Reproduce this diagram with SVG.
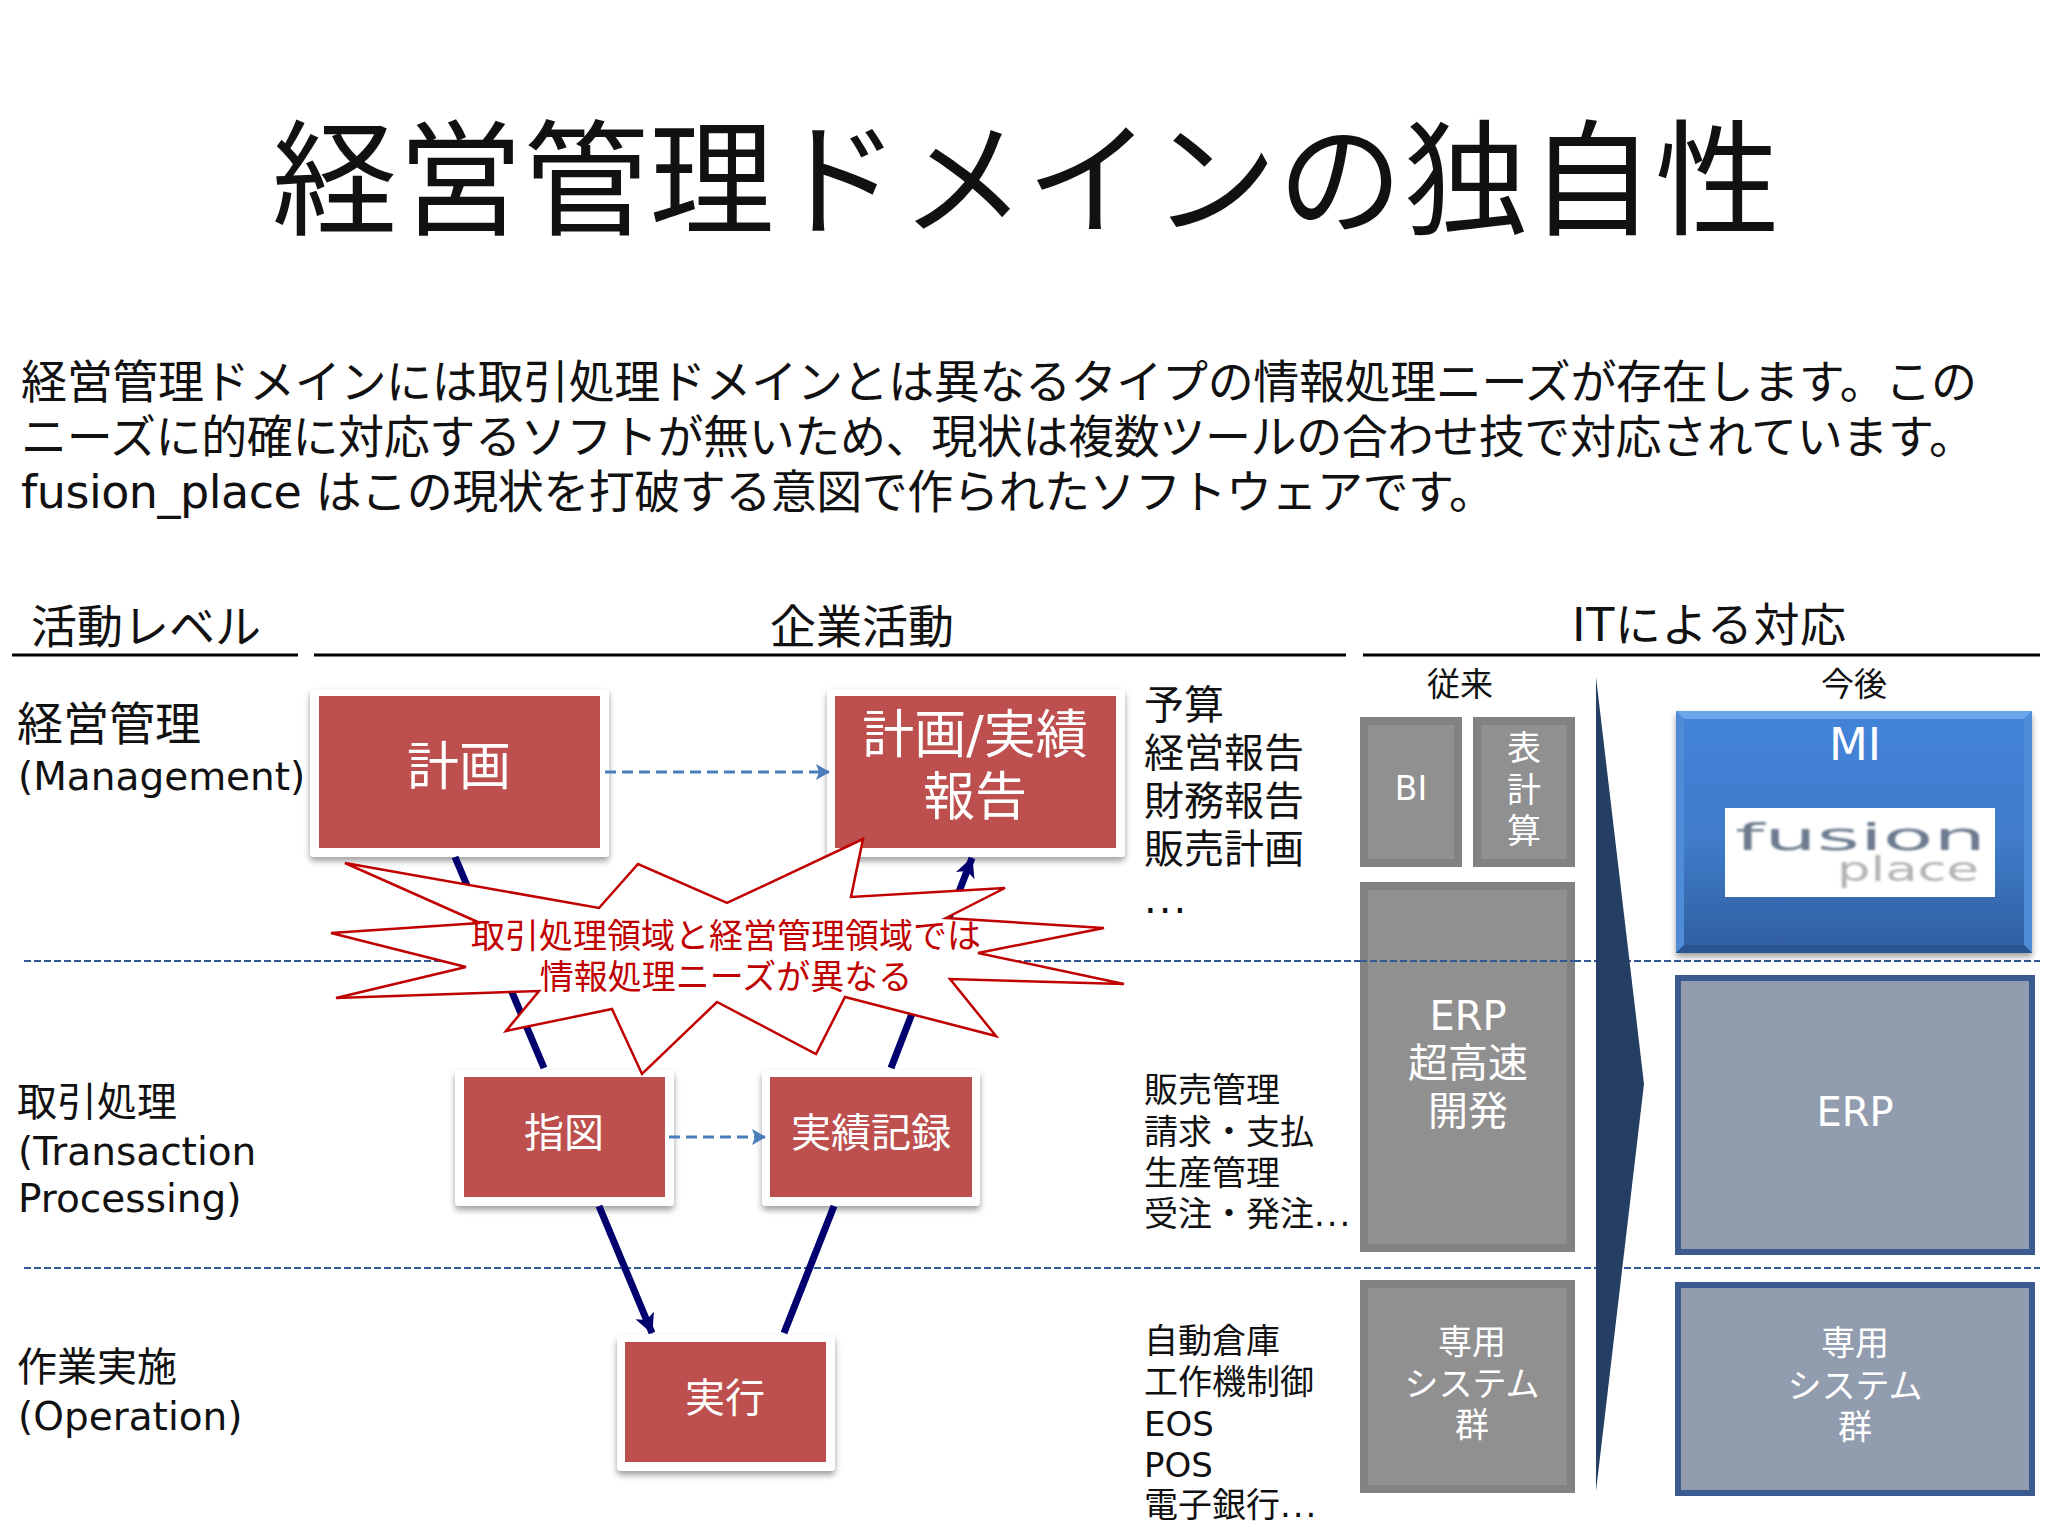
<svg xmlns="http://www.w3.org/2000/svg" width="2048" height="1536" viewBox="0 0 2048 1536">
<defs>
<style>
text{font-family:"DejaVu Sans","Noto Sans CJK JP",sans-serif;fill:#111}
.cjk{font-family:"Noto Sans CJK JP",sans-serif;font-weight:400}
.m{text-anchor:middle}
.w{fill:#fff}
.card{fill:#fff;filter:url(#sh)}
.red{fill:#bd504e}
.gray{fill:#919091;stroke:#828282;stroke-width:8}
.blue{fill:#919cae;stroke:#3a5a90;stroke-width:6}
.hd{stroke:#000;stroke-width:3;fill:none}
.lane{stroke:#2f5a94;stroke-width:2;stroke-dasharray:7 3;fill:none}
.flow{stroke:#4a7ebb;stroke-width:3;stroke-dasharray:11 6;fill:none}
.navy{stroke:#00006e;stroke-width:7;fill:none}
</style>
<filter id="sh" x="-10%" y="-10%" width="120%" height="120%"><feDropShadow dx="0" dy="4" stdDeviation="3" flood-color="#000" flood-opacity=".38"/></filter>
<filter id="soft" x="-5%" y="-20%" width="110%" height="140%"><feGaussianBlur stdDeviation=".9"/></filter>
<linearGradient id="mi" x1="0" y1="0" x2="0" y2="1"><stop offset="0" stop-color="#4384da"/><stop offset=".55" stop-color="#3f7bc8"/><stop offset="1" stop-color="#2f5e9f"/></linearGradient>
<marker id="hn" markerUnits="userSpaceOnUse" markerWidth="24" markerHeight="24" refX="19" refY="10" orient="auto"><path d="M0 0 L20 10 L0 20 L5 10Z" fill="#00006e"/></marker>
<marker id="hb" markerUnits="userSpaceOnUse" markerWidth="16" markerHeight="18" refX="13" refY="8" orient="auto"><path d="M0 0 L14 8 L0 16 L3 8Z" fill="#4a7ebb"/></marker>
</defs>
<rect width="2048" height="1536" fill="#fff"/>
<text id="title" class="cjk" x="272" y="225" font-size="125" textLength="1508">経営管理ドメインの独自性</text>
<g id="intro" font-size="46">
<text x="21" y="398" textLength="1956">経営管理ドメインには取引処理ドメインとは異なるタイプの情報処理ニーズが存在します。この</text>
<text x="21" y="453" textLength="1954">ニーズに的確に対応するソフトが無いため、現状は複数ツールの合わせ技で対応されています。</text>
<text x="21" y="508" textLength="1474">fusion_place はこの現状を打破する意図で作られたソフトウェアです。</text>
</g>
<g id="headers">
<path class="hd" d="M12 655H298M314 655H1346M1363 655H2040"/>
<text class="m" x="146" y="643" font-size="46">活動レベル</text>
<text class="m" x="862" y="643" font-size="46">企業活動</text>
<text x="1572" y="641" font-size="46" textLength="274">ITによる対応</text>
<text class="m" x="1460" y="696" font-size="33">従来</text>
<text class="m" x="1854" y="696" font-size="33">今後</text>
</g>
<g id="levels">
<text x="17" y="740" font-size="46">経営管理</text>
<text x="18" y="790" font-size="39">(Management)</text>
<text x="17" y="1116" font-size="40">取引処理</text>
<text x="18" y="1165" font-size="39">(Transaction</text>
<text x="18" y="1212" font-size="39">Processing)</text>
<text x="17" y="1381" font-size="40">作業実施</text>
<text x="18" y="1430" font-size="39">(Operation)</text>
</g>
<g id="lanes">
<path class="lane" d="M24 961H2040"/>
<path class="lane" d="M24 1268H2040"/>
</g>
<g id="plan">
<rect class="card" x="310" y="689" width="299" height="168" rx="4"/>
<rect class="red" x="319" y="696" width="281" height="152"/>
<text class="w m" x="459" y="785" font-size="52">計画</text>
</g>
<g id="report">
<rect class="card" x="827" y="689" width="298" height="168" rx="4"/>
<rect class="red" x="835" y="696" width="281" height="152"/>
<text class="w m" x="975" y="753" font-size="52">計画/実績</text>
<text class="w m" x="975" y="815" font-size="52">報告</text>
</g>
<g id="order">
<rect class="card" x="455" y="1070" width="219" height="136" rx="4"/>
<rect class="red" x="464" y="1077" width="201" height="120"/>
<text class="w m" x="564" y="1147" font-size="40">指図</text>
</g>
<g id="record">
<rect class="card" x="762" y="1070" width="218" height="136" rx="4"/>
<rect class="red" x="770" y="1077" width="202" height="120"/>
<text class="w m" x="871" y="1147" font-size="40">実績記録</text>
</g>
<g id="exec">
<rect class="card" x="617" y="1335" width="218" height="136" rx="4"/>
<rect class="red" x="625" y="1342" width="201" height="120"/>
<text class="w m" x="725" y="1412" font-size="40">実行</text>
</g>
<g id="connectors">
<path class="navy" d="M455 857L544 1068"/>
<path class="navy" d="M891 1068L972 858" marker-end="url(#hn)"/>
<path class="navy" d="M599 1206L652 1333" marker-end="url(#hn)"/>
<path class="navy" d="M784 1333L834 1206"/>
<path class="flow" d="M605 772H829" marker-end="url(#hb)"/>
<path class="flow" d="M669 1137H765" marker-end="url(#hb)"/>
</g>
<g id="burst">
<polygon points="345,863 599,908 638,864 727,903 863,839 851,897 1005,888 946,918 1104,928 978,953 1124,984 950,979 996,1036 845,997 816,1054 717,1002 642,1074 612,1009 506,1031 539,991 336,998 466,967 331,933 480,923" fill="#fff" stroke="#c00000" stroke-width="2.5"/>
<text class="m" x="726" y="948" font-size="34" style="fill:#c00000">取引処理領域と経営管理領域では</text>
<text class="m" x="726" y="989" font-size="34" style="fill:#c00000">情報処理ニーズが異なる</text>
</g>
<g id="mgmt-list" font-size="40">
<text x="1144" y="719">予算</text>
<text x="1144" y="767">経営報告</text>
<text x="1144" y="815">財務報告</text>
<text x="1144" y="863">販売計画</text>
<text x="1144" y="913" letter-spacing="2">...</text>
</g>
<g id="trans-list" font-size="34">
<text x="1144" y="1102">販売管理</text>
<text x="1144" y="1144">請求・支払</text>
<text x="1144" y="1185">生産管理</text>
<text x="1144" y="1226">受注・発注<tspan letter-spacing="2">...</tspan></text>
</g>
<g id="ops-list" font-size="34">
<text x="1144" y="1353">自動倉庫</text>
<text x="1144" y="1394">工作機制御</text>
<text x="1144" y="1436">EOS</text>
<text x="1144" y="1477">POS</text>
<text x="1144" y="1517">電子銀行<tspan letter-spacing="2">...</tspan></text>
</g>
<g id="bi">
<rect class="gray" x="1364" y="721" width="94" height="142"/>
<text class="w m" x="1411" y="800" font-size="33">BI</text>
</g>
<g id="sheet">
<rect class="gray" x="1477" y="721" width="94" height="142"/>
<text class="w m" x="1524" y="760" font-size="34">表</text>
<text class="w m" x="1524" y="802" font-size="34">計</text>
<text class="w m" x="1524" y="843" font-size="34">算</text>
</g>
<g id="erp-old">
<rect class="gray" x="1364" y="886" width="207" height="362"/>
<text class="w m" x="1468" y="1030" font-size="40">ERP</text>
<text class="w m" x="1468" y="1077" font-size="40">超高速</text>
<text class="w m" x="1468" y="1125" font-size="40">開発</text>
</g>
<g id="dedicated-old">
<rect class="gray" x="1364" y="1284" width="207" height="205"/>
<text class="w m" x="1472" y="1354" font-size="34">専用</text>
<text class="w m" x="1472" y="1396" font-size="34">システム</text>
<text class="w m" x="1472" y="1437" font-size="34">群</text>
</g>
<path class="lane" d="M1360 961H1575"/>
<polygon id="shift" points="1596,677 1644,1084 1596,1491" fill="#243f63"/>
<g id="mi-box">
<rect x="1676" y="711" width="356" height="242" fill="url(#mi)" filter="url(#sh)"/>
<polygon points="1676,711 2032,711 2024,719 1684,719" fill="#6ba5ea"/>
<polygon points="1676,711 1684,719 1684,945 1676,953" fill="#4f8cd8"/>
<polygon points="2032,711 2024,719 2024,945 2032,953" fill="#4f8cd8"/>
<polygon points="1676,953 1684,945 2024,945 2032,953" fill="#2b5591"/>
<text class="w m" x="1855" y="760" font-size="45">MI</text>
<rect x="1725" y="808" width="270" height="89" fill="#fff"/>
<text x="1735" y="850" font-size="38" textLength="251" lengthAdjust="spacingAndGlyphs" filter="url(#soft)" style="fill:#6d7c90">fusion</text>
<text x="1837" y="881" font-size="34" textLength="142" lengthAdjust="spacingAndGlyphs" filter="url(#soft)" style="fill:#b4b4b4">place</text>
</g>
<g id="erp-new">
<rect class="blue" x="1678" y="978" width="354" height="274"/>
<text class="w m" x="1855" y="1126" font-size="40">ERP</text>
</g>
<g id="dedicated-new">
<rect class="blue" x="1678" y="1285" width="354" height="208"/>
<text class="w m" x="1855" y="1355" font-size="34">専用</text>
<text class="w m" x="1855" y="1398" font-size="34">システム</text>
<text class="w m" x="1855" y="1439" font-size="34">群</text>
</g>
</svg>
